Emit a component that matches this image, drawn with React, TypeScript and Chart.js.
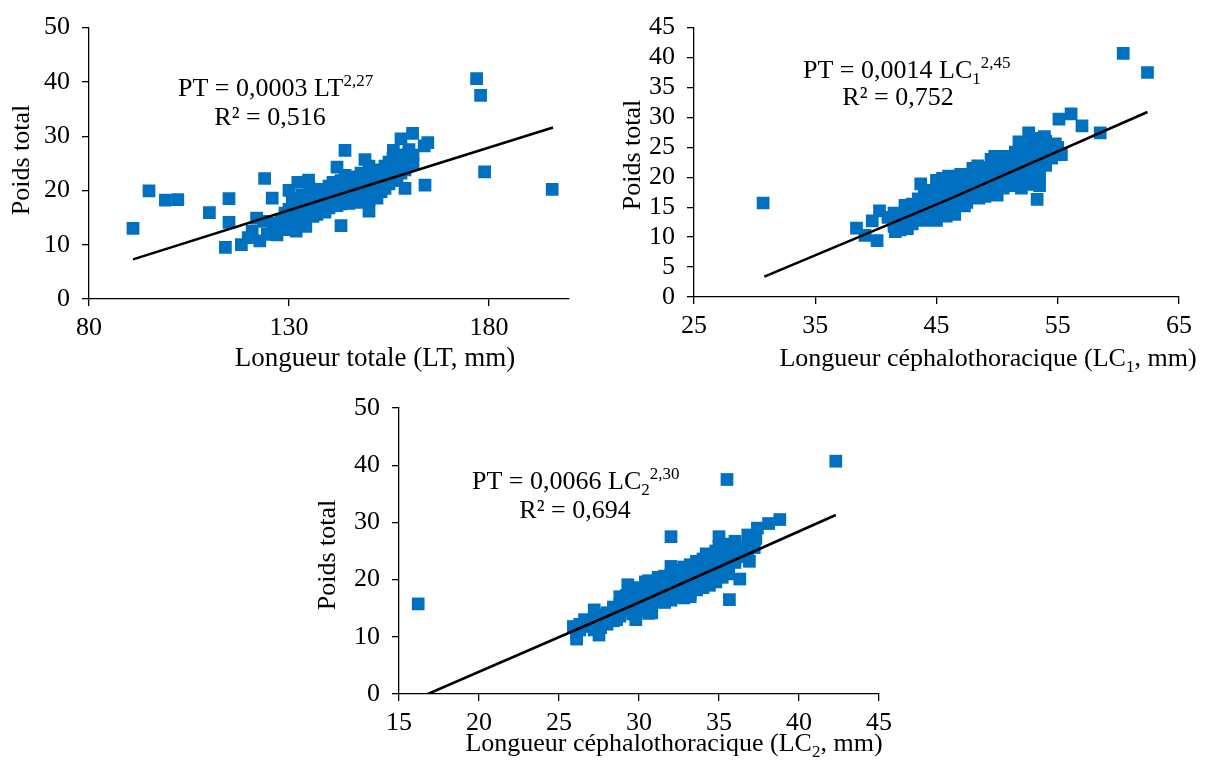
import React, { useEffect, useRef } from "react";
import { Chart, registerables } from "chart.js";

Chart.register(...registerables);

const FONT = '"Liberation Serif", "Times New Roman", serif';
const BLUE = "#0070C0";

// ---------- tick labels ----------
const ltTicks = [80, 130, 180];
const lc1Ticks = [25, 35, 45, 55, 65];
const lc2Ticks = [15, 20, 25, 30, 35, 40, 45];
const weightTicks50 = [0, 10, 20, 30, 40, 50];
const weightTicks45 = [0, 5, 10, 15, 20, 25, 30, 35, 40, 45];

// ---------- panel 1 : total length (LT) vs total weight (PT) ----------
const ltPoints: [number, number][] = [
  [91, 13], [95, 19.9], [99.1, 18.2], [102.2, 18.3], [110.1, 15.9], [114.1, 9.5], [115, 18.5], [115, 14.1],
  [118.1, 10], [123.9, 22.2], [125.8, 18.6], [144, 27.4], [143, 13.5], [176.9, 40.6], [177.9, 37.5],
  [178.9, 23.4], [195.8, 20.2], [164, 21], [159, 20.4], [160.9, 30.5], [158, 29.5], [164.7, 28.8],
  [163.8, 28.2], [156.1, 27.4], [159.8, 26.7], [142, 24.3], [149, 25.7], [150, 16.2], [134.9, 21.9],
  [132.2, 21.5], [130, 20], [130.8, 18], [133.2, 19.1], [128.4, 14], [121.9, 14.9], [119.8, 11.3],
  [122.7, 10.7], [124.6, 11.9], [123.6, 14.3], [120.8, 12.5], [131.8, 12.5], [134.2, 13.4], [130, 13.1],
  [126, 12.5], [126, 14], [127, 13], [127, 11.8], [128, 14.5], [128, 12.8], [129, 13.5], [129, 15.8],
  [130, 14.8], [130, 16.5], [130, 12.8], [131, 15.2], [131, 17.2], [131, 13.6], [132, 14.2], [132, 16], [132, 18.5],
  [133, 15.5], [133, 17], [133, 13.8], [134, 16.2], [134, 14.8], [134, 18.8], [135, 15.8], [135, 17.5], [135, 20.5],
  [136, 16.5], [136, 15.2], [136, 18.2], [137, 17], [137, 19.2], [137, 15.6], [138, 16.3], [138, 18], [138, 20.2],
  [139, 17.5], [139, 19], [139, 16], [140, 18.2], [140, 16.8], [140, 20.8], [141, 17.8], [141, 19.6], [141, 21.5],
  [142, 18.5], [142, 17.2], [142, 20.2], [143, 19.2], [143, 17.5], [143, 21.8], [144, 18.6], [144, 20.5], [144, 22.8],
  [145, 19.5], [145, 17.6], [145, 21.2], [146, 20.2], [146, 18.4], [146, 22.5], [147, 19.8], [147, 21.5], [147, 17.8],
  [148, 20.5], [148, 18.8], [148, 23.2], [149, 21.2], [149, 19.4], [149, 22.4], [150, 20.8], [150, 18.2], [150, 24.5],
  [151, 21.6], [151, 19.2], [151, 23.5], [152, 22.4], [152, 20.5], [152, 18.6], [153, 21.8], [153, 23.8], [153, 19.8],
  [154, 22.6], [154, 24.5], [154, 20.4], [155, 23.2], [155, 21.2], [155, 25.2], [156, 24], [156, 22.5], [156, 26],
  [157, 23.5], [157, 25.5], [157, 21.8], [158, 24.8], [158, 26.5], [158, 23.2], [159, 25.2], [159, 23.8],
  [160, 25.8], [160, 24.6], [160, 27.5], [161, 26.5], [161, 25],
];
const ltTrend: [number, number][] = [[91, 7.3], [143.5, 19.5], [196, 31.6]];

// ---------- panel 2 : cephalothoracic length LC1 vs PT ----------
const lc1Points: [number, number][] = [
  [30.7, 15.7], [60.4, 40.7], [62.4, 37.5], [58.5, 27.4], [57, 28.6], [56.1, 30.6], [55.1, 29.7], [53.3, 16.3],
  [52.6, 27.4], [53.9, 26.8], [54.8, 25.6], [55.3, 23.8], [53.4, 19.5], [43.7, 18.9], [40.3, 14.4], [38.4, 11.5],
  [39.1, 10.3], [40.1, 9.4], [41.6, 10.9], [42.6, 11.4], [42.4, 15.3], [41, 13.3], [39.7, 12.7], [47.3, 15.2],
  [45.8, 13.5], [44.5, 13], [51.8, 25.9], [49.8, 23.5], [48.4, 21.9],
  [41.5, 12.5], [41.5, 11.8], [41.5, 14], [42, 13.6], [42, 11.2], [42.5, 12.8], [42.5, 14.8], [42.5, 11.6],
  [43, 14], [43, 12.2], [43, 15.5], [43.5, 13.2], [43.5, 15], [43.5, 16.4], [44, 14.6], [44, 16.8], [44, 12.8], [44, 17.8],
  [44.5, 15.5], [44.5, 17.2], [44.5, 13.8], [45, 16.2], [45, 14.2], [45, 18], [45, 19.5], [45, 12.8],
  [45.5, 15.2], [45.5, 17.5], [45.5, 13.6], [45.5, 19.8], [46, 16.8], [46, 19.2], [46, 14.5], [46, 20.2],
  [46.5, 17.5], [46.5, 15.8], [46.5, 19.8], [46.5, 13.8], [47, 18], [47, 16.5], [47, 19.5], [47, 20.5],
  [47.5, 17.2], [47.5, 19], [47.5, 15.8], [48, 18.6], [48, 20.5], [48, 17.2], [48, 21.5],
  [48.5, 19.2], [48.5, 17.8], [48.5, 21.2], [48.5, 16.5], [49, 20], [49, 18.2], [49, 21.6], [49, 16.8],
  [49.5, 19.5], [49.5, 21], [49.5, 17.5], [49.5, 23], [50, 20.4], [50, 22.4], [50, 18.4], [50, 17], [50, 23.5],
  [50.5, 21], [50.5, 19.4], [50.5, 22.8], [50.5, 18.2], [51, 21.8], [51, 19.8], [51, 23.5], [51, 18.6],
  [51.5, 22.2], [51.5, 20.5], [51.5, 24.2], [51.5, 19], [52, 21.5], [52, 23], [52, 19.5], [52, 24.8], [52, 18.2],
  [52.5, 22.6], [52.5, 20.8], [52.5, 25.3], [52.5, 18.8], [53, 23.5], [53, 21.2], [53, 19.5], [53, 24.5], [53, 26.5],
  [53.5, 22.3], [53.5, 20.2], [53.5, 25.5], [53.5, 18.6], [54, 23.8], [54, 26], [54, 22], [54.5, 24.8], [54.5, 23.2],
  [55, 24], [55, 25],
];
const lc1Trend: [number, number][] = [[30.8, 3.4], [46, 16.3], [62.4, 30.9]];

// ---------- panel 3 : cephalothoracic length LC2 vs PT ----------
const lc2Points: [number, number][] = [
  [16.2, 15.75], [42.3, 40.7], [35.5, 37.5], [32, 27.5], [35.65, 16.5], [36.3, 20.1], [38.8, 30.5], [38.1, 29.8],
  [37.4, 29], [36.9, 23.2], [36, 26.7], [35, 27.5], [32, 22.3], [29.3, 19.1], [27.2, 14.7], [26.1, 9.6],
  [25.9, 11.8], [26.1, 10.6], [27.5, 10.3], [26.6, 13], [30.6, 14.1], [29.8, 13], [28.6, 13], [28.8, 17],
  [33.2, 17], [34.5, 20], [37.3, 27.2], [30.6, 19.8], [31.2, 20.4], [33.6, 23.2], [34.2, 24.5], [35, 25.8],
  [26.3, 11.2], [26.3, 12.2], [26.8, 11.8], [26.8, 12.6], [27.2, 12.4], [27.2, 11.2], [27.6, 12.8], [27.6, 13.8],
  [27.6, 11.6], [28, 13.2], [28, 14.2], [28, 12.2], [28.4, 14], [28.4, 12.8], [28.4, 15.2], [28.8, 15.6], [28.8, 13.6],
  [28.8, 14.4], [29.2, 16], [29.2, 14.6], [29.2, 17.2], [29.6, 15.2], [29.6, 16.8], [29.6, 18.6], [29.6, 14],
  [30, 16], [30, 17.4], [30, 14.6], [30, 18], [30.4, 16.6], [30.4, 18.4], [30.4, 15.4], [30.4, 19.6],
  [30.8, 17.2], [30.8, 15.8], [30.8, 19.2], [30.8, 14.2], [31.2, 18], [31.2, 16.4], [31.2, 20], [31.2, 17],
  [31.6, 18.6], [31.6, 17.2], [31.6, 20.6], [31.6, 16], [32, 19.2], [32, 17.6], [32, 21], [32, 16.4],
  [32.4, 19.8], [32.4, 18], [32.4, 21.6], [32.4, 17], [32.8, 20.4], [32.8, 18.6], [32.8, 22.2], [32.8, 16.8],
  [33.2, 20.8], [33.2, 19.2], [33.2, 22.6], [33.2, 17.6], [33.6, 21.4], [33.6, 19.6], [33.6, 23], [33.6, 18.2],
  [34, 22], [34, 20.2], [34, 23.6], [34, 18.6], [34.4, 22.6], [34.4, 20.6], [34.4, 24.2], [34.4, 19],
  [34.8, 23], [34.8, 21.2], [34.8, 25], [34.8, 19.6], [35.2, 23.6], [35.2, 21.8], [35.2, 25.6], [35.2, 20.4],
  [35.6, 24.2], [35.6, 22.4], [35.6, 26.2], [35.6, 21], [36, 24.8], [36, 23], [36, 26], [36.4, 25.4], [36.4, 24],
  [36.8, 26], [36.8, 24.6], [36.8, 27.8], [37.2, 27], [37.2, 25.6],
];
const lc2Trend: [number, number][] = [[16.8, 0], [30, 16], [42.3, 31.3]];

// ---------- rich text helpers ----------
interface Seg { t: string; sz: number; dy: number }

function drawRich(ctx: CanvasRenderingContext2D, segs: Seg[], x: number, y: number, align: "left" | "center") {
  ctx.save();
  ctx.textAlign = "left";
  ctx.textBaseline = "alphabetic";
  ctx.fillStyle = "#000";
  let total = 0;
  for (const s of segs) {
    ctx.font = `${s.sz}px ${FONT}`;
    total += ctx.measureText(s.t).width;
  }
  let cx = align === "center" ? x - total / 2 : x;
  for (const s of segs) {
    ctx.font = `${s.sz}px ${FONT}`;
    ctx.fillText(s.t, cx, y + s.dy);
    cx += ctx.measureText(s.t).width;
  }
  ctx.restore();
}

interface Panel {
  box: { left: number; top: number; width: number; height: number };
  plot: { left: number; top: number; right: number; bottom: number };
  xMin: number; xMax: number; xTicks: number[];
  yMin: number; yMax: number; yTicks: number[];
  points: [number, number][];
  trend: [number, number][];
  xTitle: Seg[]; xTitleAt: [number, number];
  yTitle: string; yTitleAt: [number, number];
  eq: Seg[]; eqAt: [number, number];
  r2: Seg[]; r2At: [number, number];
}

const FS = 26;
const SUP = 17;

const panels: Panel[] = [
  {
    box: { left: 0, top: 0, width: 600, height: 380 },
    plot: { left: 89, top: 21, right: 569, bottom: 299 },
    xMin: 80, xMax: 200, xTicks: ltTicks,
    yMin: 0, yMax: 50, yTicks: weightTicks50,
    points: ltPoints, trend: ltTrend,
    xTitle: [{ t: "Longueur totale (LT, mm)", sz: FS + 1, dy: 0 }], xTitleAt: [375, 366],
    yTitle: "Poids total", yTitleAt: [22, 160],
    eq: [{ t: "PT = 0,0003 LT", sz: FS, dy: 0 }, { t: "2,27", sz: SUP, dy: -10 }], eqAt: [178, 96],
    r2: [{ t: "R² = 0,516", sz: FS, dy: 0 }], r2At: [270, 125],
  },
  {
    box: { left: 605, top: 0, width: 606, height: 380 },
    plot: { left: 694, top: 18, right: 1179, bottom: 297 },
    xMin: 25, xMax: 65, xTicks: lc1Ticks,
    yMin: 0, yMax: 45, yTicks: weightTicks45,
    points: lc1Points, trend: lc1Trend,
    xTitle: [
      { t: "Longueur céphalothoracique (LC", sz: FS, dy: 0 },
      { t: "1", sz: SUP, dy: 6 },
      { t: ", mm)", sz: FS, dy: 0 },
    ],
    xTitleAt: [988, 366],
    yTitle: "Poids total", yTitleAt: [633, 155],
    eq: [
      { t: "PT = 0,0014 LC", sz: FS, dy: 0 },
      { t: "1", sz: SUP, dy: 6 },
      { t: "2,45", sz: SUP, dy: -10 },
    ],
    eqAt: [803, 78],
    r2: [{ t: "R² = 0,752", sz: FS, dy: 0 }], r2At: [898, 105],
  },
  {
    box: { left: 300, top: 380, width: 620, height: 389 },
    plot: { left: 399, top: 408, right: 879, bottom: 694 },
    xMin: 15, xMax: 45, xTicks: lc2Ticks,
    yMin: 0, yMax: 50, yTicks: weightTicks50,
    points: lc2Points, trend: lc2Trend,
    xTitle: [
      { t: "Longueur céphalothoracique (LC", sz: FS, dy: 0 },
      { t: "2", sz: SUP, dy: 6 },
      { t: ", mm)", sz: FS, dy: 0 },
    ],
    xTitleAt: [674, 751],
    yTitle: "Poids total", yTitleAt: [328, 555],
    eq: [
      { t: "PT = 0,0066 LC", sz: FS, dy: 0 },
      { t: "2", sz: SUP, dy: 6 },
      { t: "2,30", sz: SUP, dy: -10 },
    ],
    eqAt: [472, 489],
    r2: [{ t: "R² = 0,694", sz: FS, dy: 0 }], r2At: [575, 518],
  },
];

function PanelChart({ p }: { p: Panel }) {
  const ref = useRef<HTMLCanvasElement>(null);
  useEffect(() => {
    const canvas = ref.current;
    if (!canvas) return;
    const { box, plot } = p;
    const textPlugin = {
      id: "texts",
      afterDraw(chart: any) {
        const ctx: CanvasRenderingContext2D = chart.ctx;
        const ox = box.left, oy = box.top;
        drawRich(ctx, p.xTitle, p.xTitleAt[0] - ox, p.xTitleAt[1] - oy, "center");
        drawRich(ctx, p.eq, p.eqAt[0] - ox, p.eqAt[1] - oy, "left");
        drawRich(ctx, p.r2, p.r2At[0] - ox, p.r2At[1] - oy, "center");
        ctx.save();
        ctx.translate(p.yTitleAt[0] - ox, p.yTitleAt[1] - oy);
        ctx.rotate(-Math.PI / 2);
        ctx.font = `${FS}px ${FONT}`;
        ctx.fillStyle = "#000";
        ctx.textAlign = "center";
        ctx.textBaseline = "middle";
        ctx.fillText(p.yTitle, 0, 0);
        ctx.restore();
      },
    };
    const tickFont = { family: FONT, size: FS };
    const chart = new Chart(canvas, {
      type: "scatter",
      data: {
        datasets: [
          {
            data: p.trend.map(([x, y]) => ({ x, y })),
            showLine: true,
            borderColor: "#000",
            borderWidth: 2.6,
            pointRadius: 0,
            order: 0,
          } as any,
          {
            data: p.points.map(([x, y]) => ({ x, y })),
            pointStyle: "rect",
            pointRadius: 9,
            backgroundColor: BLUE,
            borderWidth: 0,
            showLine: false,
            order: 1,
          } as any,
        ],
      },
      options: {
        animation: false,
        responsive: false,
        devicePixelRatio: 1,
        layout: {
          padding: {
            left: 0,
            top: plot.top - box.top,
            right: box.left + box.width - plot.right,
            bottom: 0,
          },
        },
        plugins: { legend: { display: false }, tooltip: { enabled: false } },
        scales: {
          x: {
            type: "linear",
            min: p.xMin,
            max: p.xMax,
            afterBuildTicks: (axis: any) => {
              axis.ticks = p.xTicks.map((v) => ({ value: v }));
            },
            afterFit: (axis: any) => {
              axis.height = box.top + box.height - plot.bottom;
            },
            grid: { drawOnChartArea: false, drawTicks: true, tickLength: 7, color: "#000", lineWidth: 1.3 },
            border: { display: true, color: "#000", width: 1.3 },
            ticks: {
              color: "#000",
              font: tickFont,
              padding: 7,
              maxRotation: 0,
              autoSkip: false,
              callback: (v: any) => String(v),
            },
          },
          y: {
            type: "linear",
            min: p.yMin,
            max: p.yMax,
            afterBuildTicks: (axis: any) => {
              axis.ticks = p.yTicks.map((v) => ({ value: v }));
            },
            afterFit: (axis: any) => {
              axis.width = plot.left - box.left;
            },
            grid: { drawOnChartArea: false, drawTicks: true, tickLength: 7, color: "#000", lineWidth: 1.3 },
            border: { display: true, color: "#000", width: 1.3 },
            ticks: {
              color: "#000",
              font: tickFont,
              padding: 12,
              autoSkip: false,
              callback: (v: any) => String(v),
            },
          },
        },
      } as any,
      plugins: [textPlugin],
    });
    return () => chart.destroy();
  }, [p]);
  return (
    <canvas
      ref={ref}
      width={p.box.width}
      height={p.box.height}
      style={{
        position: "absolute",
        left: p.box.left,
        top: p.box.top,
        width: p.box.width,
        height: p.box.height,
      }}
    />
  );
}

export default function App() {
  return (
    <div
      style={{
        position: "absolute",
        left: 0,
        top: 0,
        width: 1211,
        height: 769,
        background: "#fff",
        overflow: "hidden",
      }}
    >
      {panels.map((p, i) => (
        <PanelChart key={i} p={p} />
      ))}
    </div>
  );
}
